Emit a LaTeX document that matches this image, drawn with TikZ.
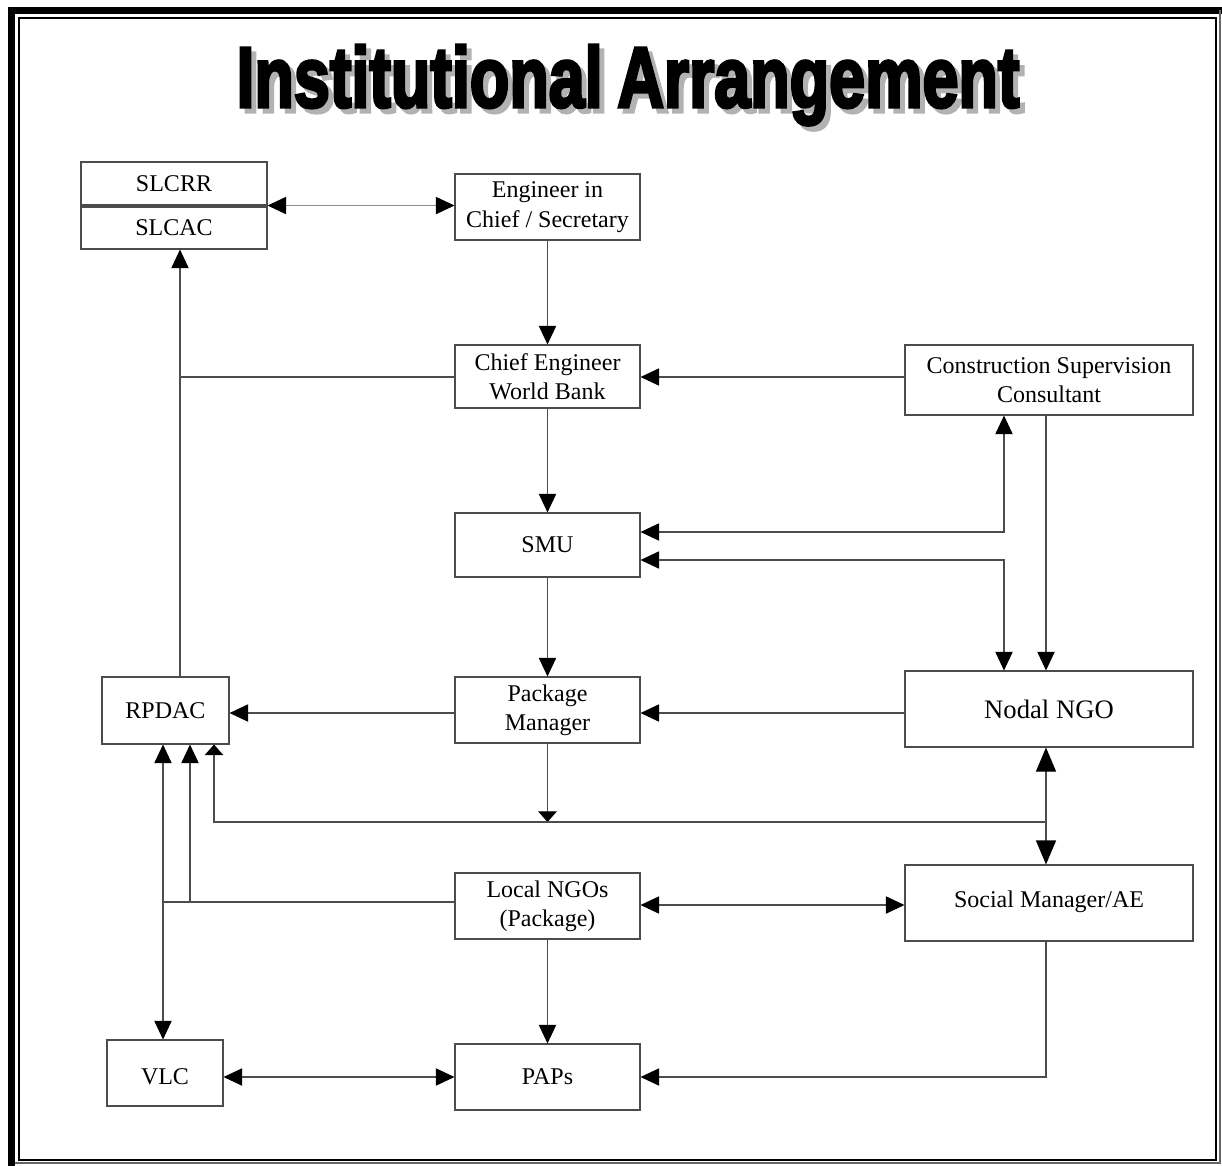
\documentclass[tikz,border=0pt]{standalone}
\usepackage{fontspec}
\setmainfont{Liberation Serif}
\newfontfamily\titlefont{Liberation Sans}[BoldFeatures = {FakeBold = 4}]
\usetikzlibrary{arrows.meta}

\tikzset{
  unit/.style = {draw = black!70, line width = 0.8pt, fill = white, inner sep = 0pt,
    align = center, font = \fontsize{18}{22}\selectfont},
  link/.style = {draw = black!70, line width = 0.8pt},
  arr/.style = {link, -{Triangle[length = 14pt, width = 13pt, color = black]}},
  twoway/.style = {link, {Triangle[length = 14pt, width = 13pt, color = black]}-{Triangle[length = 14pt, width = 13pt, color = black]}},
  bigway/.style = {link, {Triangle[length = 18pt, width = 15pt, color = black]}-{Triangle[length = 18pt, width = 15pt, color = black]}},
  flat/.style = {link, -{Triangle[length = 8pt, width = 14pt, color = black]}}
}
\newcommand{\headline}{\resizebox{587pt}{46.5pt}{\titlefont\bfseries Institutional\hspace{-0.05em} Arrangement}}

\begin{document}
\begin{tikzpicture}[x = 0.75pt, y = -0.75pt]
\useasboundingbox (0, 0) rectangle (1222, 1165);
\draw[line width = 5.25pt] (11.5, 1170) -- (11.5, 10.5) -- (1230, 10.5);
\draw[line width = 1.5pt] (19, 18) rectangle (1216, 1160);
\draw[line width = 0.8pt, black!60] (1220, 10) -- (1220, 1163) -- (15, 1163);

\node[anchor = base, inner sep = 0pt] (title) at (628, 107)
  {\rlap{\hspace{3.75pt}\raisebox{-3.75pt}{\color{black!30}\headline}}\headline};

\node[unit, minimum width = 139.5pt, minimum height = 32.25pt] (slcrr) at (174, 183.5) {SLCRR};
\node[unit, minimum width = 139.5pt, minimum height = 31.5pt] (slcac) at (174, 228) {SLCAC};
\node[unit, minimum width = 138.75pt, minimum height = 49.5pt] (eic) at (547.5, 207) {Engineer in\\Chief / Secretary};
\node[unit, minimum width = 138.75pt, minimum height = 47.25pt] (ce) at (547.5, 376.5) {Chief Engineer\\World Bank};
\node[unit, minimum width = 216pt, minimum height = 52.5pt] (csc) at (1049, 380) {Construction Supervision\\Consultant};
\node[unit, minimum width = 138.75pt, minimum height = 48pt] (smu) at (547.5, 545) {SMU};
\node[unit, minimum width = 138.75pt, minimum height = 49.5pt] (pm) at (547.5, 710) {Package\\Manager};
\node[unit, minimum width = 216pt, minimum height = 57pt, font = \fontsize{20}{24}\selectfont] (nngo) at (1049, 709) {Nodal NGO};
\node[unit, minimum width = 95.25pt, minimum height = 50.25pt] (rpdac) at (165.5, 710.5) {RPDAC};
\node[unit, minimum width = 138.75pt, minimum height = 49.5pt] (lngo) at (547.5, 906) {Local NGOs\\(Package)};
\node[unit, minimum width = 216pt, minimum height = 57pt, text depth = 6pt] (smae) at (1049, 903) {Social Manager/AE};
\node[unit, minimum width = 87pt, minimum height = 49.5pt, text height = 17pt] (vlc) at (165, 1073) {VLC};
\node[unit, minimum width = 138.75pt, minimum height = 49.5pt] (paps) at (547.5, 1077) {PAPs};

\coordinate (up) at (180, 377);
\coordinate (s1) at (1004, 532);
\coordinate (s2) at (1004, 560);
\coordinate (b1) at (214, 822);
\coordinate (b2) at (1046, 822);
\coordinate (l1) at (190, 902);
\coordinate (l2) at (163, 902);

\draw[twoway, black!45] (slcrr.south east) -- (slcrr.south east -| eic.west);
\draw[arr] (eic) -- (ce);
\draw[arr] (rpdac.north -| up) -- (slcac.south -| up);
\draw[link] (ce.west |- up) -- (up);
\draw[arr] (csc.west |- up) -- (ce.east |- up);
\draw[arr] (ce) -- (smu);
\draw[twoway] (smu.east |- s1) -| (csc.south -| s1);
\draw[twoway] (smu.east |- s2) -| (nngo.north -| s2);
\draw[arr] (csc.south -| b2) -- (nngo.north -| b2);
\draw[arr] (smu) -- (pm);
\draw[arr] (nngo.west |- 0, 713) -- (pm.east |- 0, 713);
\draw[arr] (pm.west |- 0, 713) -- (rpdac.east |- 0, 713);
\draw[flat] (pm.south) -- (pm.south |- b1);
\draw[flat] (b2) -- (b1) -- (rpdac.south -| b1);
\draw[bigway] (nngo.south -| b2) -- (smae.north -| b2);
\draw[twoway] (lngo.east |- 0, 905) -- (smae.west |- 0, 905);
\draw[link] (lngo.west |- l1) -- (l2);
\draw[arr] (l1) -- (rpdac.south -| l1);
\draw[twoway] (rpdac.south -| l2) -- (vlc.north -| l2);
\draw[arr] (lngo) -- (paps);
\draw[twoway] (paps.west -| vlc.east) -- (paps.west);
\draw[arr] (smae.south -| b2) |- (paps.east);
\end{tikzpicture}
\end{document}
